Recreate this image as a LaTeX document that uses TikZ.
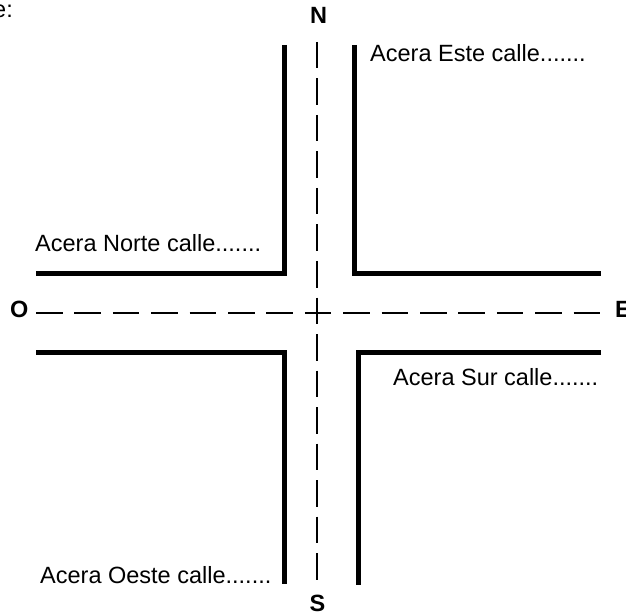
\documentclass[tikz,border=0pt]{standalone}
\usepackage{fontspec}
\setmainfont{Liberation Sans}
\begin{document}
\begin{tikzpicture}[x=1pt,y=-1pt,
  curb/.style={line width=5pt,line cap=butt,line join=miter},
  axis/.style={line width=2pt,dash pattern=on 26.5pt off 11.9pt},
  axisv/.style={line width=2pt,dash pattern=on 26.5pt off 10pt},
  lbl/.style={inner sep=0pt,font=\fontsize{23.5}{28}\selectfont},
  dir/.style={inner sep=0pt,font=\fontsize{23.5}{28}\selectfont\bfseries}]
\useasboundingbox (0,0) rectangle (626,612);
% text fragment top-left
\node[lbl,anchor=base east] (frag) at (13,18) {e:};
% compass
\node[dir,anchor=base] (N) at (318.5,24) {N};
\node[dir,anchor=base] (S) at (317.5,611) {S};
\node[dir,anchor=base west] (O) at (10,317) {O};
\node[dir,anchor=base west] (E) at (615,317) {E};
% axis ends
\coordinate (vtop) at (316.7,42);
\coordinate (vbot) at (316.7,581);
\coordinate (hleft) at (36,313);
\coordinate (hright) at (600,313);
\draw[axisv] (vtop) -- (vbot);
\draw[axis] (hleft) -- (hright);
% curbs
\coordinate (nwTop) at (284.5,45);
\coordinate (nwCorner) at (284.5,273);
\coordinate (nwEnd) at (36,273);
\coordinate (neTop) at (354.5,45);
\coordinate (neCorner) at (354.5,273);
\coordinate (neEnd) at (601,273);
\coordinate (swEnd) at (36,352.5);
\coordinate (swCorner) at (284.5,352.5);
\coordinate (swBot) at (284.5,584);
\coordinate (seEnd) at (601,352);
\coordinate (seCorner) at (358.5,352);
\coordinate (seBot) at (358.5,585);
\draw[curb] (nwTop) -- (nwCorner) -- (nwEnd);
\draw[curb] (neTop) -- (neCorner) -- (neEnd);
\draw[curb] (swEnd) -- (swCorner) -- (swBot);
\draw[curb] (seEnd) -- (seCorner) -- (seBot);
% labels
\node[lbl,anchor=base west] (este) at (370,62) {Acera Este calle.......};
\node[lbl,anchor=base west] (norte) at (35,252) {Acera Norte calle.......};
\node[lbl,anchor=base west] (sur) at (393,385) {Acera Sur calle.......};
\node[lbl,anchor=base west] (oeste) at (40,583) {Acera Oeste calle.......};
\end{tikzpicture}
\end{document}
